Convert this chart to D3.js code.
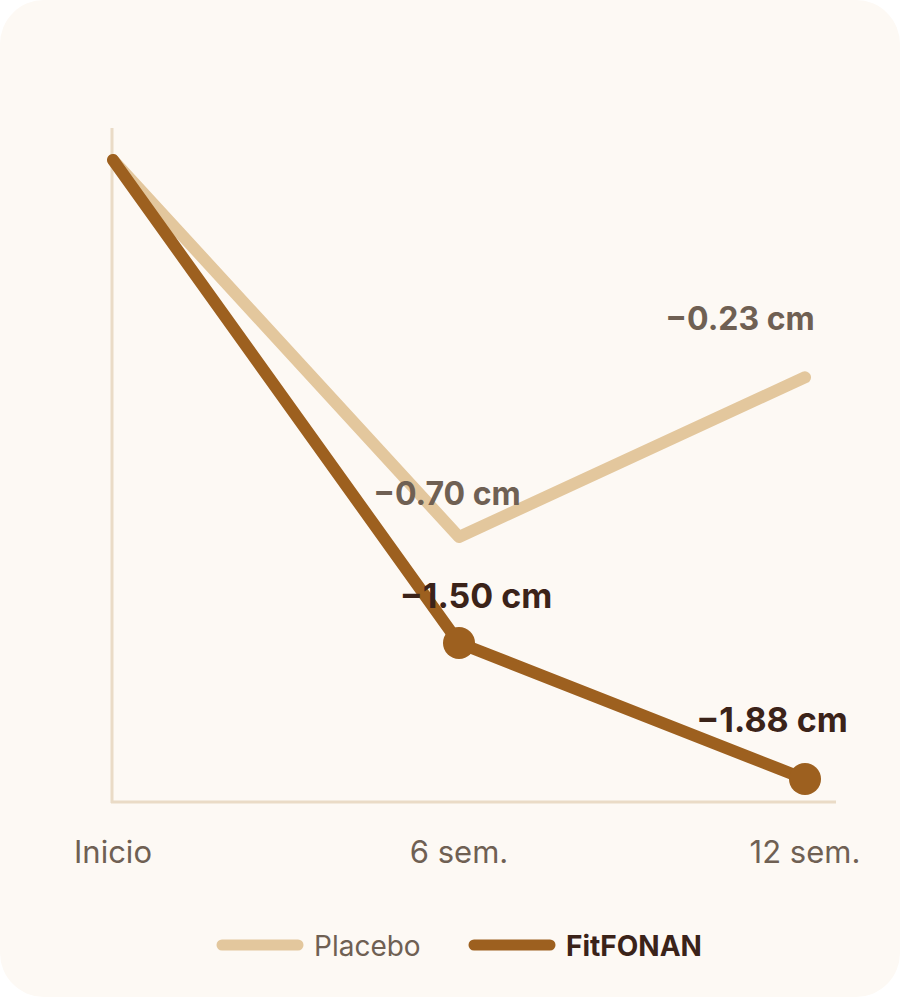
<!DOCTYPE html>
<html>
<head>
<meta charset="utf-8">
<script src="https://cdn.jsdelivr.net/npm/d3@7"></script>
<style>
  html, body { margin: 0; padding: 0; background: #ffffff; }
  svg { display: block; }
  text { font-family: Inter, "Noto Sans", sans-serif; }
</style>
</head>
<body>
<div id="chart"></div>
<script>
// periods on the x axis (weeks)
const periods = ["Inicio", "6 sem.", "12 sem."];
const weeks = [0, 6, 12];

// reported change in cm (used for the labels)
const placeboCm = [0, -0.70, -0.23];
const fitfonanCm = [0, -1.50, -1.88];

// where each point sits in the picture, read on the drawn cm axis
const placeboDrawn = [0, -1.145, -0.66];
const fitfonanDrawn = [0, -1.467, -1.88];

const seriesNames = ["Placebo", "FitFONAN"];

const width = 900;
const height = 997;

const colors = {
    card: "#fdf9f4",
    axis: "#eadbc6",
    placebo: "#e3c79d",
    fitfonan: "#9d601f",
    muted: "#6f6053",
    dark: "#3b2319"
};

const svg = d3.select("#chart")
    .append("svg")
    .attr("width", width)
    .attr("height", height);

svg.append("rect")
    .attr("width", width)
    .attr("height", height)
    .attr("rx", 44)
    .attr("fill", colors.card);

const x = d3.scaleLinear()
    .domain([0, 12])
    .range([113, 805]);

const y = d3.scaleLinear()
    .domain([0, -1.88])
    .range([160, 779]);

// axis lines
svg.append("line")
    .attr("x1", 112).attr("x2", 112)
    .attr("y1", 128).attr("y2", 803)
    .attr("stroke", colors.axis)
    .attr("stroke-width", 3);

svg.append("line")
    .attr("x1", 111).attr("x2", 836)
    .attr("y1", 802).attr("y2", 802)
    .attr("stroke", colors.axis)
    .attr("stroke-width", 3);

// x labels
svg.selectAll(".period")
    .data(periods)
    .enter()
    .append("text")
    .attr("class", "period")
    .attr("x", (d, i) => x(weeks[i]))
    .attr("y", 863)
    .attr("text-anchor", "middle")
    .attr("font-size", 31)
    .attr("fill", colors.muted)
    .text(d => d);

const line = d3.line()
    .x(d => x(d.week))
    .y(d => y(d.value));

const placeboPts = weeks.map((w, i) => ({ week: w, value: placeboDrawn[i], cm: placeboCm[i] }));
const fitPts = weeks.map((w, i) => ({ week: w, value: fitfonanDrawn[i], cm: fitfonanCm[i] }));

svg.append("path")
    .datum(placeboPts)
    .attr("fill", "none")
    .attr("stroke", colors.placebo)
    .attr("stroke-width", 12)
    .attr("stroke-linecap", "round")
    .attr("stroke-linejoin", "round")
    .attr("d", line);

svg.append("path")
    .datum(fitPts)
    .attr("fill", "none")
    .attr("stroke", colors.fitfonan)
    .attr("stroke-width", 12)
    .attr("stroke-linecap", "round")
    .attr("stroke-linejoin", "round")
    .attr("d", line);

svg.selectAll(".dot")
    .data(fitPts.slice(1))
    .enter()
    .append("circle")
    .attr("class", "dot")
    .attr("cx", d => x(d.week))
    .attr("cy", d => y(d.value))
    .attr("r", 16)
    .attr("fill", colors.fitfonan);

const fmt = v => "\u2212" + Math.abs(v).toFixed(2) + " cm";

// label offsets from each point (dx, dy)
const placeboOffsets = [null, [-12, -32], [-65, -47]];
const fitOffsets = [null, [17, -35], [-33, -47]];

svg.selectAll(".plabel")
    .data(placeboPts.slice(1))
    .enter()
    .append("text")
    .attr("class", "plabel")
    .attr("x", (d, i) => x(d.week) + placeboOffsets[i + 1][0])
    .attr("y", (d, i) => y(d.value) + placeboOffsets[i + 1][1])
    .attr("text-anchor", "middle")
    .attr("font-size", 32)
    .attr("font-weight", 700)
    .attr("fill", colors.muted)
    .text(d => fmt(d.cm));

svg.selectAll(".flabel")
    .data(fitPts.slice(1))
    .enter()
    .append("text")
    .attr("class", "flabel")
    .attr("x", (d, i) => x(d.week) + fitOffsets[i + 1][0])
    .attr("y", (d, i) => y(d.value) + fitOffsets[i + 1][1])
    .attr("text-anchor", "middle")
    .attr("font-size", 34)
    .attr("font-weight", 700)
    .attr("fill", colors.dark)
    .text(d => fmt(d.cm));

// legend
const legend = svg.append("g").attr("transform", "translate(0, 945)");
const legendX = [217, 469];
const legendStyle = [
    { stroke: colors.placebo, text: colors.muted, weight: 400 },
    { stroke: colors.fitfonan, text: colors.dark, weight: 700 }
];

seriesNames.forEach((name, i) => {
    legend.append("line")
        .attr("x1", legendX[i] + 5).attr("x2", legendX[i] + 81)
        .attr("y1", 0).attr("y2", 0)
        .attr("stroke", legendStyle[i].stroke)
        .attr("stroke-width", 11)
        .attr("stroke-linecap", "round");

    legend.append("text")
        .attr("x", legendX[i] + 97)
        .attr("y", 11)
        .attr("font-size", 28)
        .attr("font-weight", legendStyle[i].weight)
        .attr("fill", legendStyle[i].text)
        .text(name);
});
</script>
</body>
</html>
